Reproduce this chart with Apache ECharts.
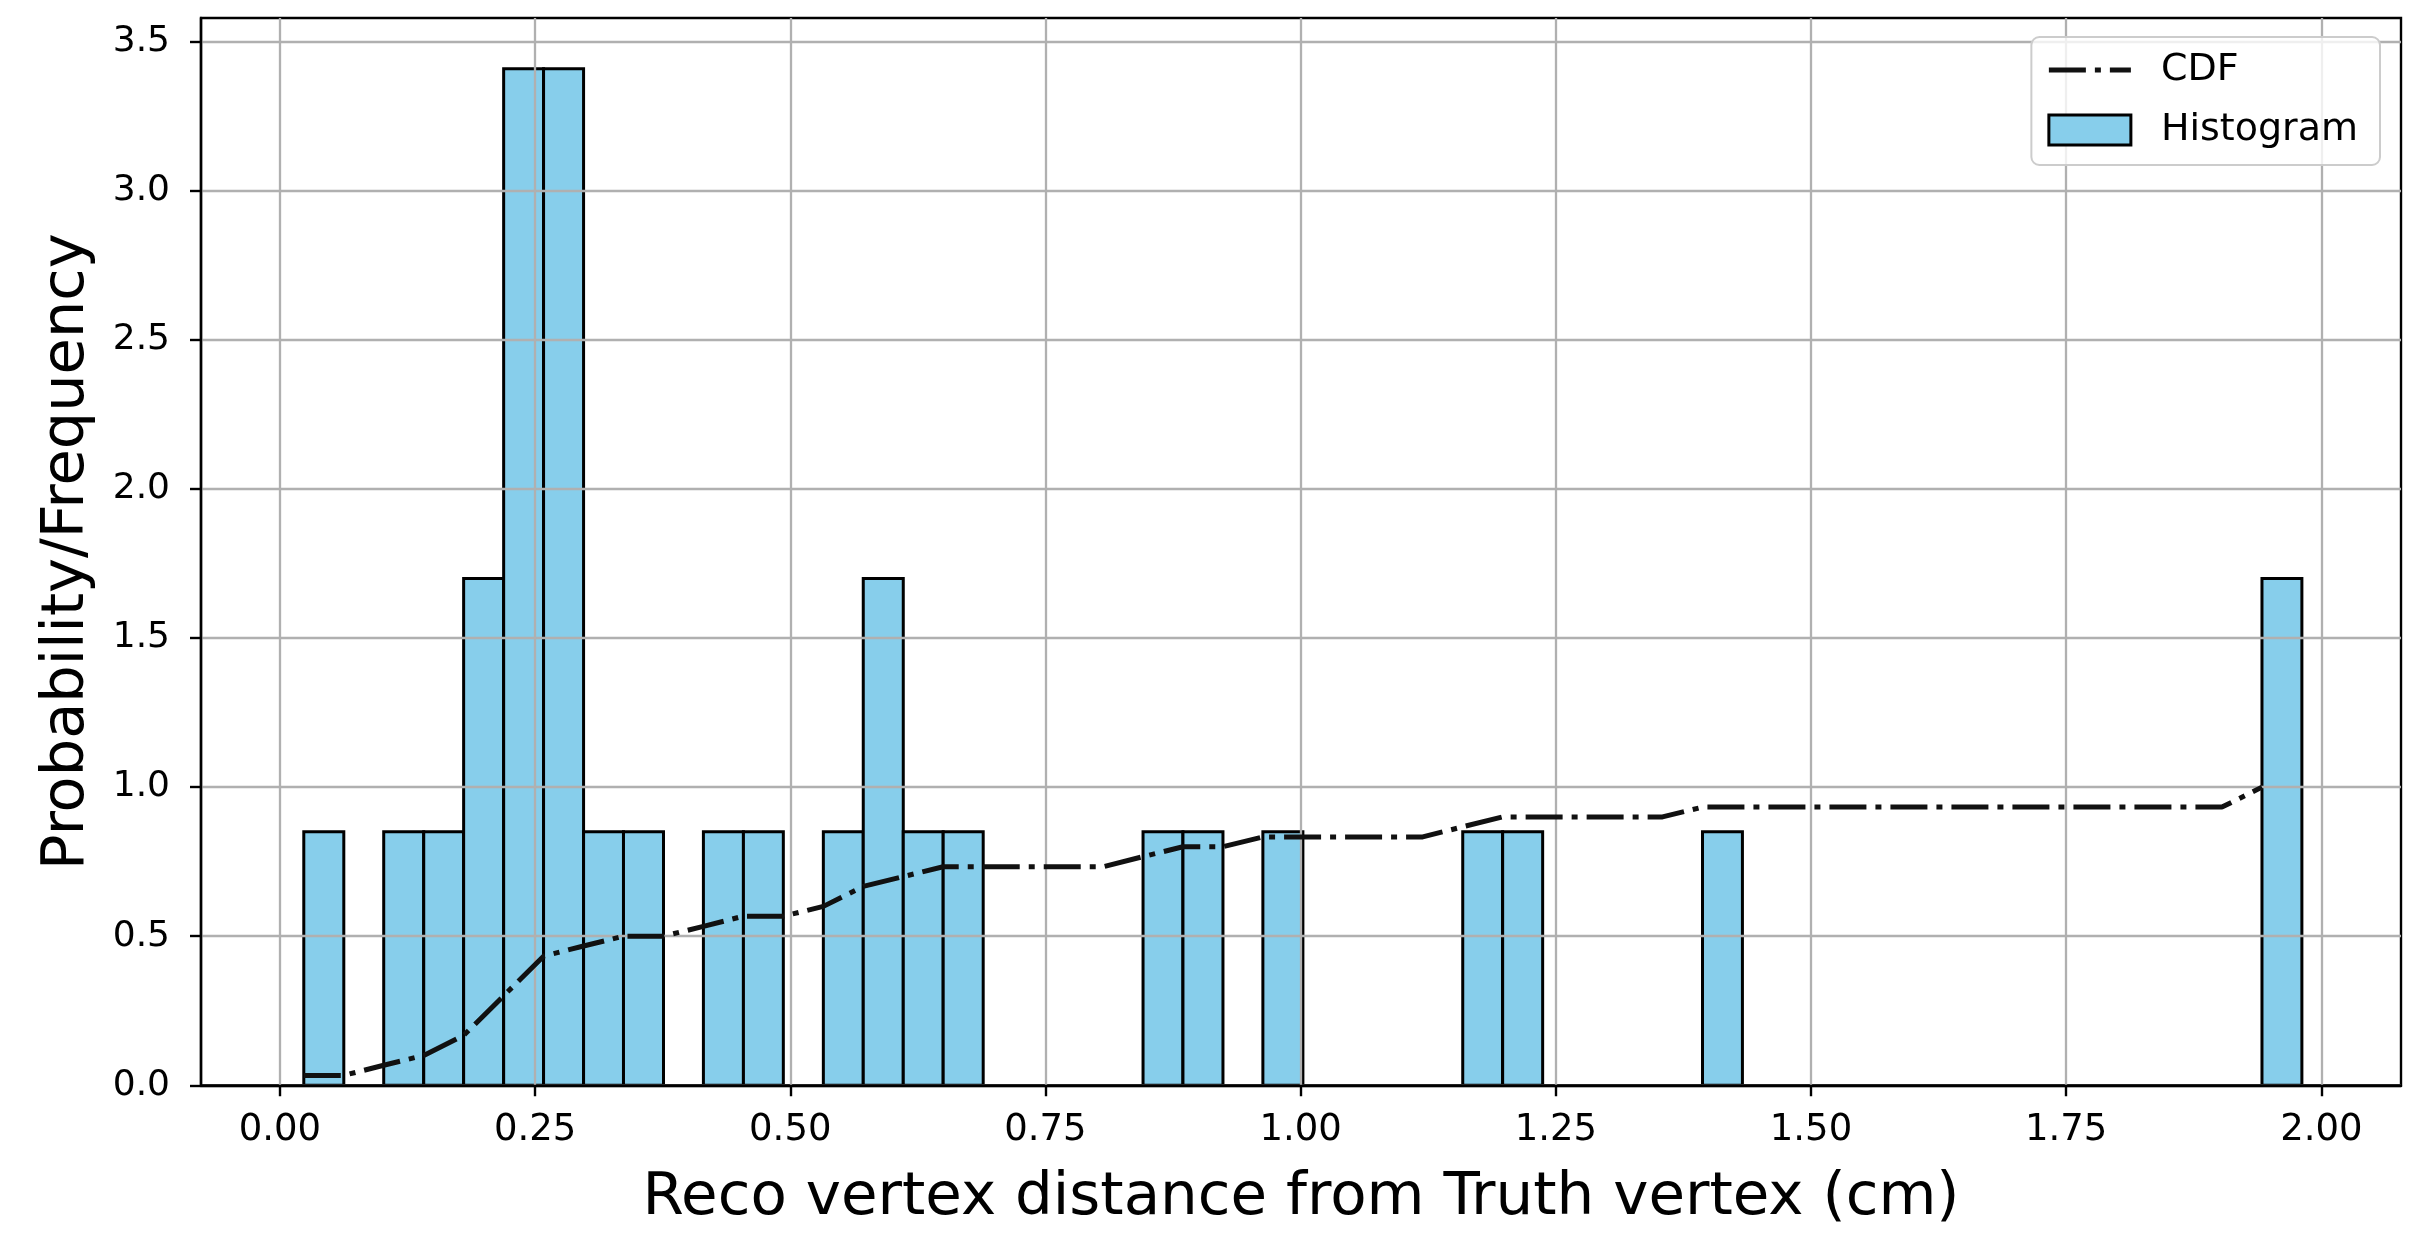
<!DOCTYPE html>
<html>
<head>
<meta charset="utf-8">
<script src="https://cdn.jsdelivr.net/npm/echarts@6/dist/echarts.min.js"></script>
<style>
  html, body { margin: 0; padding: 0; background: #ffffff; }
  #chart { width: 2423px; height: 1234px; }
</style>
</head>
<body>
<div id="chart"></div>
<script>
// Histogram bin edges (cm), 50 equal-width bins
const binEdges = [
  0.0234, 0.0626, 0.1017, 0.1409, 0.1800, 0.2192, 0.2583, 0.2975, 0.3366, 0.3758,
  0.4149, 0.4541, 0.4932, 0.5324, 0.5715, 0.6107, 0.6498, 0.6890, 0.7281, 0.7673,
  0.8064, 0.8456, 0.8847, 0.9239, 0.9630, 1.0022, 1.0413, 1.0805, 1.1196, 1.1588,
  1.1979, 1.2371, 1.2762, 1.3154, 1.3545, 1.3937, 1.4328, 1.4720, 1.5111, 1.5503,
  1.5894, 1.6286, 1.6677, 1.7069, 1.7460, 1.7852, 1.8243, 1.8635, 1.9026, 1.9418,
  1.9809
];

// Density of each bin
const histDensity = [
  0.85, 0.00, 0.85, 0.85, 1.70, 3.41, 3.41, 0.85, 0.85, 0.00,
  0.85, 0.85, 0.00, 0.85, 1.70, 0.85, 0.85, 0.00, 0.00, 0.00,
  0.00, 0.85, 0.85, 0.00, 0.85, 0.00, 0.00, 0.00, 0.00, 0.85,
  0.85, 0.00, 0.00, 0.00, 0.00, 0.85, 0.00, 0.00, 0.00, 0.00,
  0.00, 0.00, 0.00, 0.00, 0.00, 0.00, 0.00, 0.00, 0.00, 1.70
];

// Cumulative fraction, plotted at each bin's left edge
const cdfValues = [
  0.033, 0.033, 0.067, 0.100, 0.167, 0.300, 0.433, 0.467, 0.500, 0.500,
  0.533, 0.567, 0.567, 0.600, 0.667, 0.700, 0.733, 0.733, 0.733, 0.733,
  0.733, 0.767, 0.800, 0.800, 0.833, 0.833, 0.833, 0.833, 0.833, 0.867,
  0.900, 0.900, 0.900, 0.900, 0.900, 0.933, 0.933, 0.933, 0.933, 0.933,
  0.933, 0.933, 0.933, 0.933, 0.933, 0.933, 0.933, 0.933, 0.933, 1.000
];

const xTicks = [0, 0.25, 0.5, 0.75, 1.0, 1.25, 1.5, 1.75, 2.0];
const yTicks = [0, 0.5, 1.0, 1.5, 2.0, 2.5, 3.0, 3.5];

const cdfName = 'CDF';
const histName = 'Histogram';
const xTitle = 'Reco vertex distance from Truth vertex (cm)';
const yTitle = 'Probability/Frequency';

const histData = histDensity.map((h, i) => [binEdges[i], binEdges[i + 1], h]);
const cdfData = cdfValues.map((v, i) => [binEdges[i], v]);

const FONT = 'DejaVu Sans';
const barFill = '#87ceeb';
const gridColor = '#b0b0b0';
const cdfColor = '#111111';
const cdfDash = [37, 9, 6, 9];

const chart = echarts.init(document.getElementById('chart'), null, { renderer: 'canvas' });

chart.setOption({
  backgroundColor: '#ffffff',
  animation: false,
  grid: {
    left: 201, right: 22, top: 18, bottom: 146,
    show: true, borderColor: '#000000', borderWidth: 2.4,
    backgroundColor: 'transparent'
  },
  legend: {
    orient: 'vertical',
    right: 43,
    top: 37,
    padding: [14, 22, 16, 15],
    itemGap: 22,
    itemWidth: 82,
    itemHeight: 30,
    backgroundColor: 'rgba(255,255,255,0.8)',
    borderColor: '#cccccc',
    borderWidth: 2,
    borderRadius: 8,
    textStyle: { fontFamily: FONT, fontSize: 38, color: '#000000', lineHeight: 38, padding: [0, 0, 0, 25] },
    data: [
      {
        name: cdfName,
        // line-only key: the marker drawn on top of the line is made fully transparent
        itemStyle: { color: 'rgba(0,0,0,0)', opacity: 0, borderWidth: 0 },
        lineStyle: { color: cdfColor, width: 5, type: cdfDash, opacity: 1 }
      },
      { name: histName, icon: 'rect', itemStyle: { color: barFill, borderColor: '#000000', borderWidth: 3 } }
    ]
  },
  xAxis: {
    type: 'value',
    min: -0.0773,
    max: 2.078,
    z: 3,
    axisLine: { show: true, onZero: false, lineStyle: { color: '#000000', width: 2.4 } },
    axisTick: { show: true, inside: false, length: 11, customValues: xTicks, lineStyle: { color: '#000000', width: 2.4 } },
    axisLabel: {
      customValues: xTicks,
      margin: 27,
      fontFamily: FONT, fontSize: 37, lineHeight: 37, color: '#000000',
      formatter: v => v.toFixed(2)
    },
    splitLine: { show: true, lineStyle: { color: gridColor, width: 2.3 } },
    name: xTitle,
    nameLocation: 'middle',
    nameGap: 84,
    nameTextStyle: { fontFamily: FONT, fontSize: 59.5, lineHeight: 59.5, color: '#000000' }
  },
  yAxis: {
    type: 'value',
    min: 0,
    max: 3.58,
    z: 3,
    axisLine: { show: true, onZero: false, lineStyle: { color: '#000000', width: 2.4 } },
    axisTick: { show: true, inside: false, length: 11, customValues: yTicks, lineStyle: { color: '#000000', width: 2.4 } },
    axisLabel: {
      customValues: yTicks,
      margin: 31,
      fontFamily: FONT, fontSize: 36, lineHeight: 36, color: '#000000',
      formatter: v => v.toFixed(1)
    },
    splitLine: { show: true, lineStyle: { color: gridColor, width: 2.3 } },
    name: yTitle,
    nameLocation: 'middle',
    nameGap: 104,
    nameTextStyle: { fontFamily: FONT, fontSize: 59, lineHeight: 59, color: '#000000' }
  },
  series: [
    {
      name: cdfName,
      type: 'line',
      z: 5,
      data: cdfData,
      symbol: 'none',
      smooth: false,
      lineStyle: { color: cdfColor, width: 5, type: cdfDash, cap: 'butt' },
      itemStyle: { color: cdfColor }
    },
    {
      name: histName,
      type: 'custom',
      z: 2,
      itemStyle: { color: barFill, borderColor: '#000000', borderWidth: 3 },
      encode: { x: [0, 1], y: 2 },
      data: histData,
      renderItem: function (params, api) {
        const h = api.value(2);
        if (!(h > 0)) return null;
        const p0 = api.coord([api.value(0), h]);
        const p1 = api.coord([api.value(1), 0]);
        return {
          type: 'rect',
          shape: { x: p0[0], y: p0[1], width: p1[0] - p0[0], height: p1[1] - p0[1] },
          style: { fill: barFill, stroke: '#000000', lineWidth: 3 }
        };
      }
    }
  ]
});
</script>
</body>
</html>
